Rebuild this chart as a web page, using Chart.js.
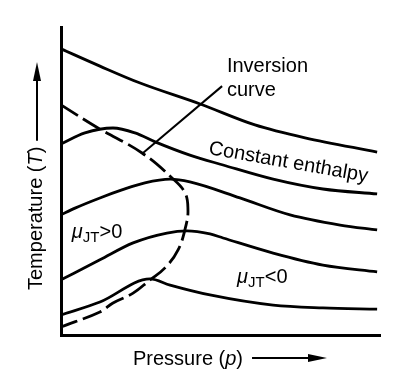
<!DOCTYPE html>
<html>
<head>
<meta charset="utf-8">
<script src="https://cdn.jsdelivr.net/npm/chart.js@4.4.1/dist/chart.umd.min.js"></script>
<style>
  body { margin: 0; background: #fff; }
</style>
</head>
<body>
<canvas id="chart" width="410" height="378"></canvas>
<script>
// schematic units: pressure 0-100, temperature 0-100

// constant enthalpy curves (top to bottom)
const h1Pressure = [0, 12.2, 24.8, 43.6, 60.8, 76.5, 99.1];
const h1Temp     = [92.9, 87.3, 81.8, 75.0, 68.2, 64.0, 59.4];

const h2Pressure = [0, 7.5, 16.3, 23.2, 29.5, 40.4, 50.8, 66.5, 82.1, 99.1];
const h2Temp     = [62.0, 65.6, 67.2, 65.6, 62.7, 58.4, 55.2, 50.6, 47.4, 45.8];

const h3Pressure = [0, 4.4, 12.2, 19.1, 26.3, 34.2, 40.4, 56.1, 71.8, 87.5, 99.1];
const h3Temp     = [39.0, 41.2, 44.5, 47.1, 49.4, 50.6, 49.7, 44.5, 39.0, 35.7, 34.1];

const h4Pressure = [0, 12.2, 22.6, 33.2, 39.5, 46.7, 50.8, 66.5, 82.1, 99.1];
const h4Temp     = [17.9, 24.4, 29.9, 33.1, 33.8, 32.8, 31.5, 26.6, 22.7, 20.5];

const h5Pressure = [0, 12.2, 27.9, 34.2, 46.7, 66.5, 82.1, 99.1];
const h5Temp     = [6.5, 10.7, 18.2, 16.2, 13.0, 9.7, 8.8, 8.4];

// inversion curve (dashed), followed along the curve
const invPressure = [0, 11.6, 25.4, 34.8, 38.9, 39.8, 39.2, 36.7, 32.6, 27.9, 22.6, 16.3, 12.2, 0];
const invTemp     = [74.7, 67.2, 59.1, 51.0, 46.1, 40.6, 35.7, 27.6, 21.8, 17.9, 13.6, 10.4, 7.5, 2.6];

// leader line to the "Inversion curve" label
const leaderPressure = [25.7, 50.5];
const leaderTemp     = [59.1, 80.8];

function pts(px, py) {
  return px.map((v, i) => ({ x: v, y: py[i] }));
}

const FONT = '"Liberation Sans", Arial, Helvetica, sans-serif';

// labels, arrows and axis titles
const notes = {
  id: 'notes',
  afterDraw(chart) {
    const { ctx, chartArea: a, scales: { x, y } } = chart;
    ctx.save();
    ctx.fillStyle = '#000';
    ctx.strokeStyle = '#000';
    ctx.textBaseline = 'alphabetic';
    ctx.textAlign = 'left';

    function runs(x0, y0, parts) {
      let cx = x0;
      parts.forEach(([t, size, italic, dy]) => {
        ctx.font = (italic ? 'italic ' : '') + size + 'px ' + FONT;
        ctx.fillText(t, cx, y0 + (dy || 0));
        cx += ctx.measureText(t).width;
      });
      return cx;
    }

    function arrow(x1, y1, x2, y2) {
      const ang = Math.atan2(y2 - y1, x2 - x1);
      const len = 19, half = 4;
      const bx = x2 - len * Math.cos(ang), by = y2 - len * Math.sin(ang);
      ctx.lineWidth = 2;
      ctx.beginPath();
      ctx.moveTo(x1, y1);
      ctx.lineTo(bx, by);
      ctx.stroke();
      ctx.beginPath();
      ctx.moveTo(x2, y2);
      ctx.lineTo(bx + half * Math.sin(ang), by - half * Math.cos(ang));
      ctx.lineTo(bx - half * Math.sin(ang), by + half * Math.cos(ang));
      ctx.closePath();
      ctx.fill();
    }

    // text inside the plot
    ctx.font = '20px ' + FONT;
    ctx.fillText('Inversion', x.getPixelForValue(52.0), y.getPixelForValue(85.4));
    ctx.fillText('curve', x.getPixelForValue(52.0), y.getPixelForValue(77.6));

    ctx.save();
    ctx.translate(x.getPixelForValue(46.1), y.getPixelForValue(58.8));
    ctx.rotate(10 * Math.PI / 180);
    ctx.fillText('Constant enthalpy', 0, 0);
    ctx.restore();

    runs(x.getPixelForValue(3.4), y.getPixelForValue(31.5),
      [['\u03BC', 20, true], ['JT', 15, false, 4], ['>0', 20]]);
    runs(x.getPixelForValue(55.2), y.getPixelForValue(16.9),
      [['\u03BC', 20, true], ['JT', 15, false, 4], ['<0', 20]]);

    // x axis title
    const endX = runs(a.left + 72, a.bottom + 30,
      [['Pressure (', 20], ['p', 20, true], [')', 20]]);
    arrow(endX + 9, a.bottom + 23, a.right - 53, a.bottom + 23);

    // y axis title
    ctx.save();
    ctx.translate(a.left - 19, a.bottom - 45);
    ctx.rotate(-Math.PI / 2);
    const endY = runs(0, 0, [['Temperature (', 20], ['T', 20, true], [')', 20]]);
    arrow(endY + 6, -5, a.bottom - 45 - 62, -5);
    ctx.restore();

    ctx.restore();
  }
};

const solid = { borderColor: '#000', borderWidth: 2.8, pointRadius: 0, cubicInterpolationMode: 'monotone' };

new Chart(document.getElementById('chart'), {
  type: 'line',
  data: {
    datasets: [
      { ...solid, data: pts(h1Pressure, h1Temp) },
      { ...solid, data: pts(h2Pressure, h2Temp) },
      { ...solid, data: pts(h3Pressure, h3Temp) },
      { ...solid, data: pts(h4Pressure, h4Temp) },
      { ...solid, data: pts(h5Pressure, h5Temp) },
      { data: pts(invPressure, invTemp), borderColor: '#000', borderWidth: 2.8, pointRadius: 0,
        tension: 0.4, borderDash: [20, 6] },
      { data: pts(leaderPressure, leaderTemp), borderColor: '#000', borderWidth: 2, pointRadius: 0, tension: 0 }
    ]
  },
  options: {
    responsive: false,
    animation: false,
    layout: { padding: { left: 61, right: 30, top: 27, bottom: 43 } },
    plugins: { legend: { display: false }, tooltip: { enabled: false } },
    scales: {
      x: {
        type: 'linear', min: 0, max: 100,
        grid: { display: false, drawTicks: false },
        ticks: { display: false },
        border: { display: true, color: '#000', width: 3 }
      },
      y: {
        type: 'linear', min: 0, max: 100,
        grid: { display: false, drawTicks: false },
        ticks: { display: false },
        border: { display: true, color: '#000', width: 3 }
      }
    }
  },
  plugins: [notes]
});
</script>
</body>
</html>
